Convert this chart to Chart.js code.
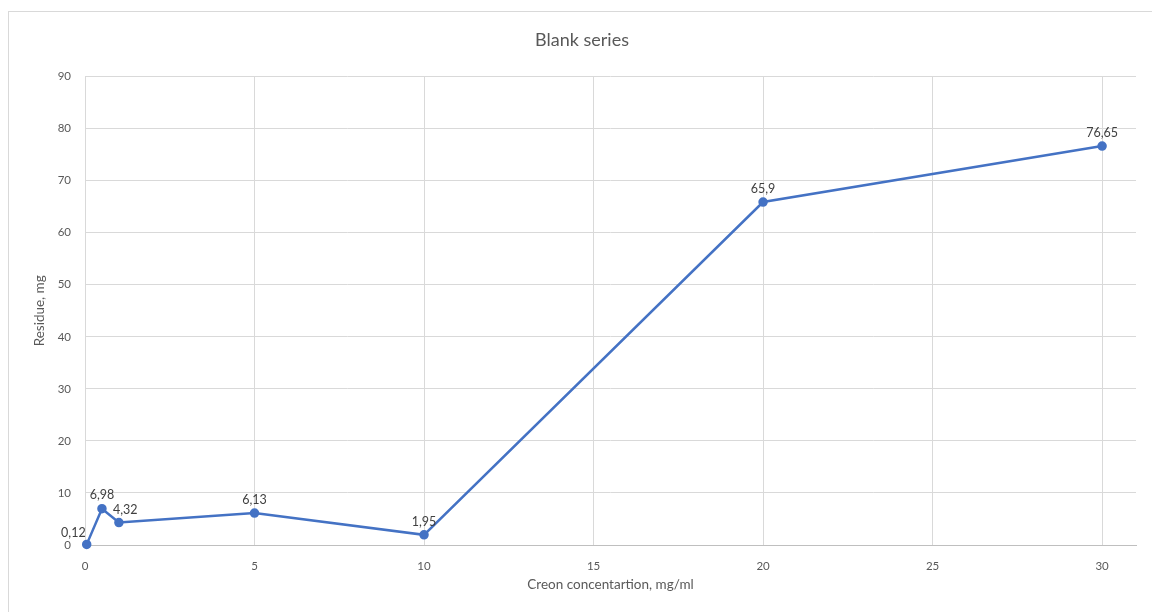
<!DOCTYPE html>
<html lang="en">
<head>
    <meta charset="UTF-8">
    <title>Blank series</title>
    <script src="https://cdn.jsdelivr.net/npm/chart.js"></script>
    <style>
      body { margin: 0; background: #fff; overflow: hidden; }
      #wrap { position: relative; width: 1152px; height: 612px; }
      #frame { position: absolute; left: 8px; top: 11px; width: 1200px; height: 700px; border: 1px solid #d9d9d9; box-sizing: border-box; }
      canvas { position: absolute; left: 0; top: 0; }
    </style>
</head>
<body>
    <div id="wrap">
      <div id="frame"></div>
      <canvas id="myChart" width="1152" height="612"></canvas>
    </div>

    <script>
      // data
      const concentration = [0.05, 0.5, 1, 5, 10, 20, 30];
      const residue = [0.12, 6.98, 4.32, 6.13, 1.95, 65.9, 76.65];
      const labels = ['0,12', '6,98', '4,32', '6,13', '1,95', '65,9', '76,65'];
      const xTicks = [0, 5, 10, 15, 20, 25, 30];
      const yTicks = [0, 10, 20, 30, 40, 50, 60, 70, 80, 90];

      // where each value label sits next to its point
      const labelSide = ['left', 'center', 'right', 'center', 'center', 'center', 'center'];

      const pointLabels = {
        id: 'pointLabels',
        afterDatasetsDraw(chart) {
          const ctx = chart.ctx;
          const meta = chart.getDatasetMeta(0);
          ctx.save();
          ctx.font = '12.5px Lato';
          ctx.fillStyle = '#404040';
          ctx.textBaseline = 'bottom';
          meta.data.forEach((pt, i) => {
            let x = pt.x, y = pt.y - 7;
            if (labelSide[i] === 'left') { ctx.textAlign = 'right'; x -= 1; y += 2; }
            else if (labelSide[i] === 'right') { ctx.textAlign = 'left'; x -= 6; y += 1; }
            else ctx.textAlign = 'center';
            ctx.fillText(labels[i], x, y);
          });
          ctx.restore();
        }
      };

      var ctx = document.getElementById('myChart').getContext('2d');
      var myChart = new Chart(ctx, {
          type: 'scatter',
          data: {
              datasets: [{
                  data: concentration.map((c, i) => ({ x: c, y: residue[i] })),
                  showLine: true,
                  clip: false,
                  borderColor: '#4472C4',
                  backgroundColor: '#4472C4',
                  borderWidth: 2.5,
                  pointRadius: 3.5,
                  tension: 0
              }]
          },
          options: {
              responsive: false,
              animation: false,
              layout: { padding: { left: 28, right: 16, top: 0, bottom: 15 } },
              plugins: {
                  legend: { display: false },
                  tooltip: { enabled: false },
                  title: {
                      display: true,
                      text: 'Blank series',
                      color: '#595959',
                      font: { family: 'Lato', size: 18, weight: 'normal' },
                      padding: { top: 29, bottom: 26 }
                  }
              },
              scales: {
                  x: {
                      type: 'linear',
                      min: 0,
                      max: 31,
                      afterBuildTicks: s => { s.ticks = xTicks.map(v => ({ value: v })); },
                      afterFit: s => { s.height = 52; },
                      grid: { color: '#d9d9d9', drawTicks: false },
                      border: { color: '#bfbfbf' },
                      ticks: { color: '#595959', font: { family: 'Lato', size: 11.5 }, padding: 14 },
                      title: {
                          display: true,
                          text: 'Creon concentartion, mg/ml',
                          color: '#595959',
                          font: { family: 'Lato', size: 13.5 },
                          padding: { top: 4 }
                      }
                  },
                  y: {
                      min: 0,
                      max: 90,
                      afterBuildTicks: s => { s.ticks = yTicks.map(v => ({ value: v })); },
                      afterFit: s => { s.width = 57; },
                      grid: { color: '#d9d9d9', drawTicks: false },
                      border: { display: false },
                      ticks: { color: '#595959', font: { family: 'Lato', size: 11.5 }, padding: 14 },
                      title: {
                          display: true,
                          text: 'Residue, mg',
                          color: '#595959',
                          font: { family: 'Lato', size: 13.5 },
                          padding: { top: 4, bottom: 4 }
                      }
                  }
              }
          },
          plugins: [pointLabels]
      });
  </script>
</body>
</html>
